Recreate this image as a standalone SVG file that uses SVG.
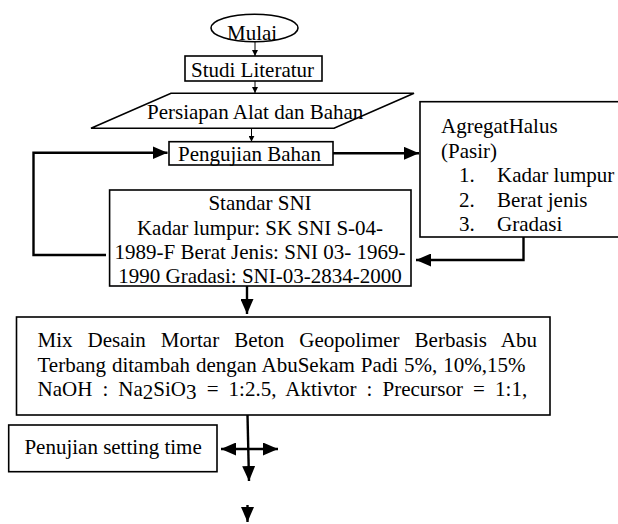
<svg xmlns="http://www.w3.org/2000/svg" width="618" height="524" viewBox="0 0 618 524">
<style>
text{font-family:"Liberation Serif","Times New Roman",serif;font-size:21px;fill:#000}
.box{fill:#fff;stroke:#000;stroke-width:1.6}
.thin{fill:none;stroke:#000;stroke-width:1}
.thick{fill:none;stroke:#000;stroke-width:2.4}
</style>
<defs>
<marker id="sm" markerUnits="userSpaceOnUse" viewBox="0 0 6 6" refX="6" refY="3" markerWidth="6" markerHeight="6" orient="auto"><path d="M0,0L6,3L0,6z" fill="#000"/></marker>
<marker id="big" markerUnits="userSpaceOnUse" viewBox="0 0 15 13" refX="15" refY="6.5" markerWidth="15" markerHeight="13" orient="auto-start-reverse"><path d="M0,0L15,6.5L0,13z" fill="#000"/></marker>
</defs>
<g id="connectors">
<line class="thin" x1="255" y1="42" x2="255" y2="56" marker-end="url(#sm)"/>
<line class="thin" x1="255" y1="81" x2="255" y2="93" marker-end="url(#sm)"/>
<line class="thin" x1="251.5" y1="128.5" x2="251.5" y2="141.7" marker-end="url(#sm)"/>
<polyline class="thick" points="106,255 33.5,255 33.5,152.7 167.5,152.7" marker-end="url(#big)"/>
<line class="thick" x1="333" y1="153.3" x2="419" y2="153.3" marker-end="url(#big)"/>
<polyline class="thick" points="523.5,237 523.5,260 416,260" marker-end="url(#big)"/>
<line class="thick" x1="247" y1="286" x2="247" y2="314" marker-end="url(#big)"/>
<line class="thick" x1="221" y1="449" x2="278" y2="449" marker-start="url(#big)" marker-end="url(#big)"/>
<line class="thick" x1="247.5" y1="415" x2="249" y2="481" marker-end="url(#big)"/>
<line class="thick" x1="247.5" y1="505" x2="247.5" y2="522" marker-end="url(#big)"/>
</g>
<g id="mulai">
<ellipse class="box" cx="254.5" cy="28" rx="43.5" ry="13.8"/>
<text x="227" y="40">Mulai</text>
</g>
<g id="studi">
<rect class="box" x="185" y="56" width="137" height="25"/>
<text x="191" y="76.5">Studi Literatur</text>
</g>
<g id="persiapan">
<polygon class="box" points="171,93.3 414,93.3 334,128.3 91,128.3"/>
<text x="147" y="118.5">Persiapan Alat dan Bahan</text>
</g>
<g id="pengujian">
<rect class="box" x="169" y="141.7" width="164" height="23.3"/>
<text x="178" y="161">Pengujian Bahan</text>
</g>
<g id="agregat">
<rect class="box" x="420" y="101.7" width="202" height="135.3"/>
<text x="441" y="133">AgregatHalus</text>
<text x="441" y="157.5">(Pasir)</text>
<text x="459" y="182">1.</text><text x="497" y="182">Kadar lumpur</text>
<text x="459" y="206.5">2.</text><text x="497" y="206.5">Berat jenis</text>
<text x="459" y="231">3.</text><text x="497" y="231">Gradasi</text>
</g>
<g id="standar">
<rect class="box" x="109.6" y="190" width="301.4" height="96"/>
<text x="260" y="209.5" text-anchor="middle">Standar SNI</text>
<text x="260" y="234.5" text-anchor="middle">Kadar lumpur: SK SNI S-04-</text>
<text x="260" y="259" text-anchor="middle">1989-F Berat Jenis: SNI 03- 1969-</text>
<text x="260" y="283" text-anchor="middle">1990 Gradasi: SNI-03-2834-2000</text>
</g>
<g id="mix">
<rect class="box" x="16.5" y="317" width="533.5" height="98"/>
<text x="37.5" y="346.7" word-spacing="9.75">Mix Desain Mortar Beton Geopolimer Berbasis Abu</text>
<text x="37.5" y="371.7" word-spacing="0.7">Terbang ditambah dengan AbuSekam Padi 5%, 10%,15%</text>
<text x="37.5" y="396" word-spacing="4.85">NaOH : Na<tspan dy="3">2</tspan><tspan dy="-3">SiO</tspan><tspan dy="3">3</tspan><tspan dy="-3"> = 1:2.5, Aktivtor : Precursor = 1:1,</tspan></text>
</g>
<g id="setting">
<rect class="box" x="8.7" y="425" width="208.3" height="46.7"/>
<text x="24.4" y="454">Penujian setting time</text>
</g>
</svg>
